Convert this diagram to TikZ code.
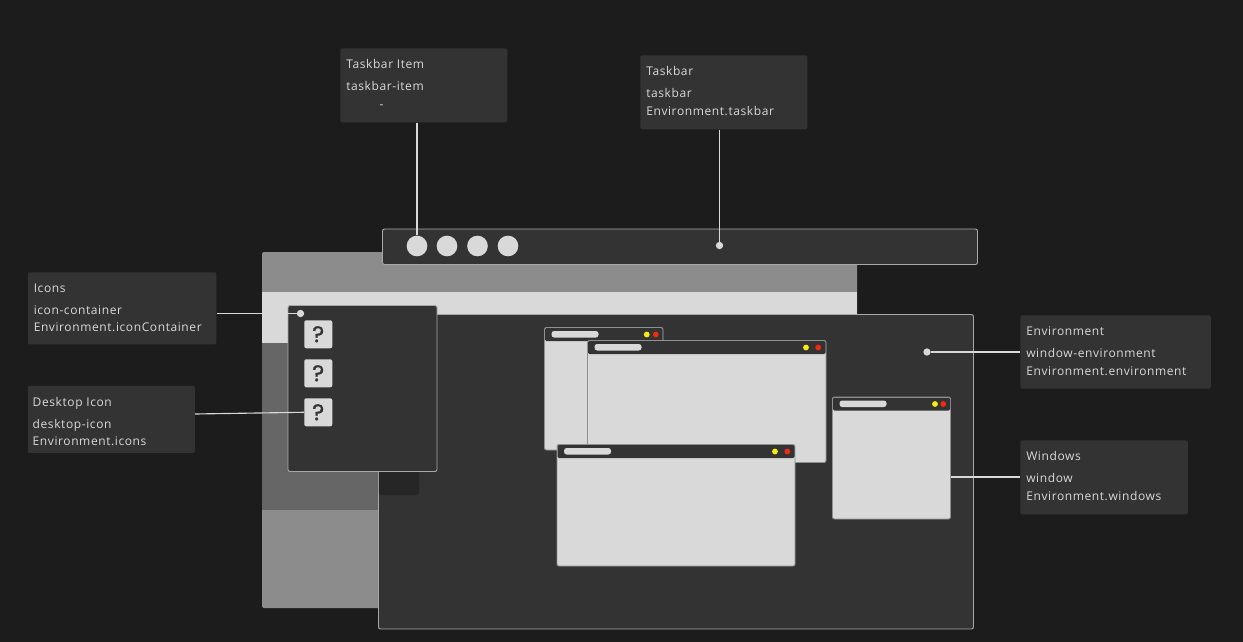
\documentclass[tikz,border=0pt]{standalone}
\usepackage{fontspec}
\setmainfont[LetterSpace=5]{Open Sans}
\newfontfamily\iconfont[FakeBold=1]{Poppins}
\usetikzlibrary{positioning}
\definecolor{bgdark}{HTML}{1C1C1C}
\definecolor{panel}{HTML}{333333}
\definecolor{paper}{HTML}{D9D9D9}
\definecolor{midgray}{HTML}{8C8C8C}
\definecolor{lowgray}{HTML}{666666}
\definecolor{edge}{HTML}{A8A8A8}
\definecolor{winedge}{HTML}{909090}
\definecolor{redbtn}{HTML}{F02A10}
\definecolor{yellowbtn}{HTML}{F5EC10}

\begin{document}
\begin{tikzpicture}[x=0.75pt, y=-0.75pt,
    infobox/.style={rectangle, fill=panel, rounded corners=1.5pt, anchor=north west, inner sep=0pt, minimum width=#1*0.75pt},
    infotext/.style={anchor=north west, inner xsep=4.5pt, inner ysep=8.7pt, text=paper, align=left,
                     font=\fontsize{9}{13}\selectfont, execute at begin node={\rule{0pt}{8pt}}},
    wire/.style={draw=paper, line width=0.85pt},
    dotmark/.style={circle, fill=paper, inner sep=0pt, minimum size=5.5pt},
    taskitem/.style={circle, fill=paper, inner sep=0pt, minimum size=15.5pt},
    deskicon/.style={rectangle, fill=paper, rounded corners=1.5pt, anchor=north west, inner sep=0pt, minimum size=21pt,
                     text=panel, font=\fontsize{17}{17}\iconfont},
    frame/.style={fill=panel, draw=edge, line width=0.7pt, rounded corners=1.5pt}]
    \fill[bgdark] (0,0) rectangle (1243,642);
    \useasboundingbox (0,0) rectangle (1243,642);

    % Backdrop
    \fill[midgray, rounded corners=1.5pt] (262,252) rectangle (857,608);
    \fill[paper] (262,292) rectangle (857,344);
    \fill[lowgray] (262,343) rectangle (380,510);

    % Environment and the panels over it
    \draw[frame] (378.5,314.5) rectangle (973.5,629);
    \fill[black, opacity=.25, rounded corners=1.5pt] (378.5,460) rectangle (419,495);
    \draw[frame] (288,305.5) rectangle (437,471.5);
    \draw[frame] (382.5,229) rectangle (977.5,264.5);

    % Taskbar items
    \node[taskitem] (item1) at (417,246) {};
    \node[taskitem] (item2) at (447,246) {};
    \node[taskitem] (item3) at (477.5,246) {};
    \node[taskitem] (item4) at (508,246) {};
    \node[dotmark] (taskbardot) at (719.5,245.5) {};

    % Desktop icons
    \node[dotmark] (icondot) at (300.5,313.5) {};
    \node[deskicon] (icon1) at (304,320) {?};
    \node[deskicon] (icon2) at (304,359) {?};
    \node[deskicon] (icon3) at (304,398) {?};

    % Windows
    \foreach \xa/\ya/\xb/\yb/\yel/\rd in {544.5/327.5/663/450/646.7/655.8,
                                          587.5/340.5/826/462.5/806/818.2,
                                          557/444.5/795/566/775/787.3,
                                          832.5/397/950.5/519/935/943.3} {
        \draw[fill=paper, draw=winedge, line width=0.7pt, rounded corners=1.5pt] (\xa,\ya) rectangle (\xb,\yb);
        \fill[panel, rounded corners=1pt] (\xa+0.5,\ya+0.5) rectangle (\xb-0.5,\ya+13.5);
        \fill[paper, rounded corners=2pt] (\xa+7,\ya+3.5) rectangle (\xa+54,\ya+10);
        \fill[yellowbtn] (\yel,\ya+7) circle (2.9);
        \fill[redbtn] (\rd,\ya+7) circle (2.9);
    }
    \node[dotmark] (envdot) at (927,352) {};
    \coordinate (winside) at (950.5,477);

    % Labels
    \node[infobox=167, minimum height=55.5pt] (lbltaskitem) at (340,48) {};
    \node[infotext] (txttaskitem) at (lbltaskitem.north west) {Taskbar Item\\[3.5pt]taskbar-item\\\hspace*{25pt}-};
    \node[infobox=167, minimum height=55.5pt] (lbltaskbar) at (640,55) {};
    \node[infotext] (txttaskbar) at (lbltaskbar.north west) {Taskbar\\[3.5pt]taskbar\\Environment.taskbar};
    \node[infobox=188.5, minimum height=54pt] (lblicons) at (27.5,272) {};
    \node[infotext] (txticons) at (lblicons.north west) {Icons\\[3.5pt]icon-container\\Environment.iconContainer};
    \node[infobox=167, minimum height=50.5pt] (lbldesk) at (27.5,385.5) {};
    \node[infotext, xshift=-0.8pt] (txtdesk) at (lbldesk.north west) {Desktop Icon\\[3.5pt]desktop-icon\\Environment.icons};
    \node[infobox=190.5, minimum height=55pt] (lblenv) at (1020,315) {};
    \node[infotext] (txtenv) at (lblenv.north west) {Environment\\[3.5pt]window-environment\\Environment.environment};
    \node[infobox=167.5, minimum height=55.5pt] (lblwin) at (1020,440) {};
    \node[infotext] (txtwin) at (lblwin.north west) {Windows\\[3.5pt]window\\Environment.windows};

    % Connectors
    \coordinate (deskwire) at (195,414);
    \draw[wire] (lbltaskitem.south -| item1) -- (item1.north);
    \draw[wire] (lbltaskbar.south -| taskbardot) -- (taskbardot);
    \draw[wire] (lblicons.east |- icondot) -- (icondot);
    \draw[wire] (deskwire) -- (icon3.west);
    \draw[wire] (lblenv.west |- envdot) -- (envdot);
    \draw[wire] (lblwin.west |- winside) -- (winside);
\end{tikzpicture}
\end{document}
